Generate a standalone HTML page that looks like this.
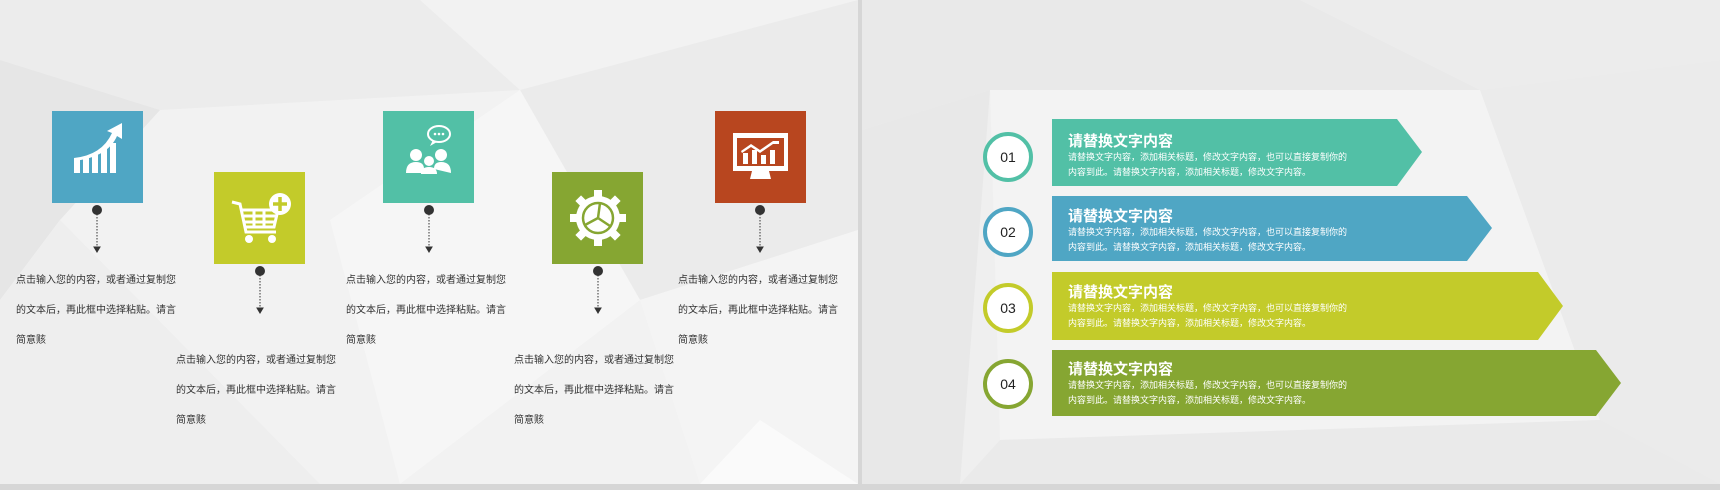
<!DOCTYPE html>
<html><head><meta charset="utf-8"><style>
*{margin:0;padding:0}
body{width:1720px;height:490px;position:relative;overflow:hidden;background:#d6d6d6;font-family:"Liberation Sans","Noto Sans CJK SC",sans-serif}
.a{position:absolute}
.box{position:absolute;width:91px;height:92px}
.t{position:absolute;font-size:10px;color:#333;line-height:30px;width:200px;white-space:nowrap}
.c{position:absolute;width:42px;height:42px;border-radius:50%;border:4px solid;background:#fff;font-size:14px;line-height:42px;text-align:center;color:#222}
.ti{position:absolute;color:#fff;font-size:15px;font-weight:bold}
.bd{position:absolute;color:#fff;font-size:9px;line-height:15px;white-space:nowrap}
</style></head><body>
<svg class="a" style="left:0;top:0" width="1720" height="490">
 <rect x="0" y="0" width="858" height="484" fill="#f2f2f2"/>
 <polygon points="0,0 420,0 520,90 160,110 0,60" fill="#ececec"/>
 <polygon points="0,60 160,110 60,220 0,300" fill="#e6e6e6"/>
 <polygon points="0,300 60,220 320,484 0,484" fill="#eeeeee"/>
 <polygon points="520,90 858,0 858,230 640,300" fill="#ebebeb"/>
 <polygon points="330,220 520,90 640,300 400,484" fill="#f6f6f6"/>
 <polygon points="640,300 858,230 858,484 700,484" fill="#f4f4f4"/>
 <polygon points="760,420 858,484 700,484" fill="#fafafa"/>
 <rect x="862" y="0" width="858" height="484" fill="#efefef"/>
 <polygon points="862,0 1300,0 1480,90 990,90 862,130" fill="#e9e9e9"/>
 <polygon points="862,130 990,90 960,484 862,484" fill="#e8e8e8"/>
 <polygon points="1300,0 1720,0 1720,60 1480,90" fill="#ececec"/>
 <polygon points="1480,90 1720,60 1720,484 1550,484" fill="#ebebeb"/>
 <polygon points="990,90 1480,90 1600,420 1000,440" fill="#f3f3f3"/>
 <polygon points="960,484 1000,440 1600,420 1720,484" fill="#eaeaea"/>
</svg>

<div class="box" style="left:52px;top:111px;background:#4fa6c4">
<svg width="91" height="92"><g fill="#fff"><rect x="22" y="48" width="6" height="14"/><rect x="31" y="46" width="6" height="16"/><rect x="40" y="43" width="6" height="19"/><rect x="49" y="38" width="6" height="24"/><rect x="58" y="32" width="6" height="30"/><path d="M22 47 Q50 44 60 22 L55 20 L70 12 L70 28 L65 25 Q56 46 22 50Z"/></g></svg></div>
<div class="box" style="left:214px;top:172px;background:#c3cb2a">
<svg width="91" height="92"><g fill="none" stroke="#fff" stroke-width="3"><path d="M18 30 L26 32 L32 60 L62 60"/><path d="M28 38 L64 38 L60 55 L31 55"/><path d="M30 44 L62 44 M31 50 L60 50 M40 38 L40 55 M50 38 L50 55"/></g><circle cx="35" cy="67" r="4" fill="#fff"/><circle cx="58" cy="67" r="4" fill="#fff"/><circle cx="66" cy="32" r="11" fill="#fff"/><path d="M66 25 V39 M59 32 H73" stroke="#c3cb2a" stroke-width="3.5"/></svg></div>
<div class="box" style="left:383px;top:111px;background:#52c0a6">
<svg width="91" height="92"><g fill="#fff"><circle cx="33" cy="44" r="6"/><circle cx="58" cy="44" r="6"/><circle cx="46" cy="50" r="5"/><path d="M23 62 Q23 51 33 51 Q41 51 41 58 L40 62Z"/><path d="M51 58 Q51 51 58 51 Q68 51 68 62Z"/><path d="M38 63 Q38 56 46 56 Q54 56 54 63Z"/></g><ellipse cx="56" cy="23" rx="11" ry="8" fill="none" stroke="#fff" stroke-width="2"/><path d="M50 29 L47 35 L54 31" fill="#fff"/><circle cx="52" cy="23" r="1.3" fill="#fff"/><circle cx="56" cy="23" r="1.3" fill="#fff"/><circle cx="60" cy="23" r="1.3" fill="#fff"/></svg></div>
<div class="box" style="left:552px;top:172px;background:#86a632">
<svg width="91" height="92"><circle cx="46" cy="46" r="22" fill="#fff"/><g fill="#fff"><rect x="42" y="18" width="8" height="8"/><rect x="42" y="66" width="8" height="8"/><rect x="18" y="42" width="8" height="8"/><rect x="66" y="42" width="8" height="8"/><rect x="42" y="18" width="8" height="8" transform="rotate(45 46 46)"/><rect x="42" y="66" width="8" height="8" transform="rotate(45 46 46)"/><rect x="18" y="42" width="8" height="8" transform="rotate(45 46 46)"/><rect x="66" y="42" width="8" height="8" transform="rotate(45 46 46)"/></g><circle cx="46" cy="46" r="15" fill="none" stroke="#86a632" stroke-width="2.5"/><path d="M46 46 L48 31 M46 46 L33 53 M46 46 L58 54" stroke="#86a632" stroke-width="2.5"/></svg></div>
<div class="box" style="left:715px;top:111px;background:#b8461f">
<svg width="91" height="92"><rect x="18" y="22" width="55" height="38" fill="#fff"/><rect x="22" y="27" width="47" height="28" fill="#b8461f"/><path d="M37 60 L54 60 L56 68 L35 68Z" fill="#fff"/><g fill="#fff"><rect x="28" y="42" width="5" height="11"/><rect x="37" y="39" width="5" height="14"/><rect x="46" y="44" width="5" height="9"/><rect x="55" y="39" width="5" height="14"/><path d="M26 40 L36 33 L45 39 L58 30 L64 30 L64 33 L58 33 L45 42 L36 36 L27 42Z"/></g></svg></div>

<svg class="a" style="left:0;top:0" width="860" height="490">
<g fill="#333" stroke="#333">
 <circle cx="97" cy="210" r="4.5"/><line x1="97" y1="214" x2="97" y2="247" stroke-dasharray="1.5 1.5"/><path d="M94 247 L100 247 L97 252Z"/>
 <circle cx="260" cy="271" r="4.5"/><line x1="260" y1="275" x2="260" y2="308" stroke-dasharray="1.5 1.5"/><path d="M257 308 L263 308 L260 313Z"/>
 <circle cx="429" cy="210" r="4.5"/><line x1="429" y1="214" x2="429" y2="247" stroke-dasharray="1.5 1.5"/><path d="M426 247 L432 247 L429 252Z"/>
 <circle cx="598" cy="271" r="4.5"/><line x1="598" y1="275" x2="598" y2="308" stroke-dasharray="1.5 1.5"/><path d="M595 308 L601 308 L598 313Z"/>
 <circle cx="760" cy="210" r="4.5"/><line x1="760" y1="214" x2="760" y2="247" stroke-dasharray="1.5 1.5"/><path d="M757 247 L763 247 L760 252Z"/>
</g></svg>

<div class="t" style="left:16px;top:266px">点击输入您的内容，或者通过复制您<br>的文本后，再此框中选择粘贴。请言<br>简意赅</div>
<div class="t" style="left:176px;top:346px">点击输入您的内容，或者通过复制您<br>的文本后，再此框中选择粘贴。请言<br>简意赅</div>
<div class="t" style="left:346px;top:266px">点击输入您的内容，或者通过复制您<br>的文本后，再此框中选择粘贴。请言<br>简意赅</div>
<div class="t" style="left:514px;top:346px">点击输入您的内容，或者通过复制您<br>的文本后，再此框中选择粘贴。请言<br>简意赅</div>
<div class="t" style="left:678px;top:266px">点击输入您的内容，或者通过复制您<br>的文本后，再此框中选择粘贴。请言<br>简意赅</div>

<svg class="a" style="left:0;top:0" width="1720" height="490">
 <polygon points="1052,119 1397,119 1422,152 1397,186 1052,186" fill="#52c0a6"/>
 <polygon points="1052,196 1467,196 1492,228 1467,261 1052,261" fill="#4fa6c4"/>
 <polygon points="1052,272 1538,272 1563,306 1538,340 1052,340" fill="#c3cb2a"/>
 <polygon points="1052,350 1596,350 1621,383 1596,416 1052,416" fill="#86a632"/>
</svg>
<div class="c" style="left:983px;top:132px;border-color:#52c0a6">01</div>
<div class="c" style="left:983px;top:207px;border-color:#4fa6c4">02</div>
<div class="c" style="left:983px;top:283px;border-color:#c3cb2a">03</div>
<div class="c" style="left:983px;top:359px;border-color:#86a632">04</div>

<div class="ti" style="left:1068px;top:130px">请替换文字内容</div>
<div class="bd" style="left:1068px;top:150px">请替换文字内容，添加相关标题，修改文字内容，也可以直接复制你的<br>内容到此。请替换文字内容，添加相关标题，修改文字内容。</div>
<div class="ti" style="left:1068px;top:205px">请替换文字内容</div>
<div class="bd" style="left:1068px;top:225px">请替换文字内容，添加相关标题，修改文字内容，也可以直接复制你的<br>内容到此。请替换文字内容，添加相关标题，修改文字内容。</div>
<div class="ti" style="left:1068px;top:281px">请替换文字内容</div>
<div class="bd" style="left:1068px;top:301px">请替换文字内容，添加相关标题，修改文字内容，也可以直接复制你的<br>内容到此。请替换文字内容，添加相关标题，修改文字内容。</div>
<div class="ti" style="left:1068px;top:358px">请替换文字内容</div>
<div class="bd" style="left:1068px;top:378px">请替换文字内容，添加相关标题，修改文字内容，也可以直接复制你的<br>内容到此。请替换文字内容，添加相关标题，修改文字内容。</div>
</body></html>
